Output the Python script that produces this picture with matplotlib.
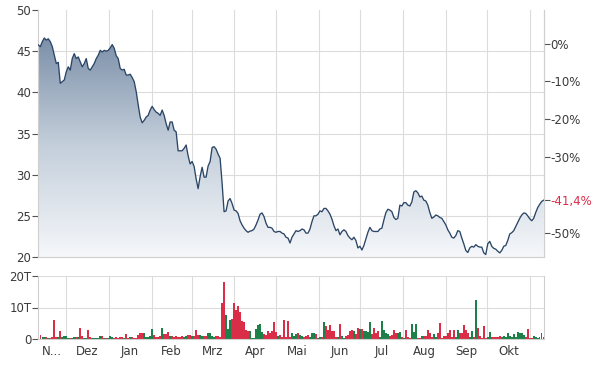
import numpy as np
import pandas as pd
import matplotlib
matplotlib.use("Agg")
import matplotlib.pyplot as plt
import matplotlib.dates as mdates
from matplotlib.patches import PathPatch
from matplotlib.colors import LinearSegmentedColormap

# ---------------- data ----------------
start_date = "2019-11-11"
end_date = "2020-11-11"
base_price = 45.93  # reference price for the % axis (0 %)

prices = [
    45.75, 45.55, 46.15, 46.6, 46.35, 46.5, 46.15, 45.55, 44.5, 43.5,
    43.65, 41.1, 41.3, 41.5, 42.5, 43.1, 42.7, 44.1, 44.7, 44.1,
    44.3, 43.7, 43.1, 43.5, 44.1, 42.9, 42.7, 43.1, 43.5, 44.1,
    44.5, 45.1, 44.9, 45.1, 45.0, 45.1, 45.4, 45.8, 45.35, 44.45,
    44.1, 42.9, 42.7, 42.8, 42.1, 42.1, 42.2, 41.8, 41.3, 40.1,
    38.5, 37.0, 36.3, 36.6, 37.0, 37.2, 37.85, 38.3, 37.9, 37.6,
    37.45, 37.2, 37.85, 37.2, 36.2, 35.4, 36.4, 36.4, 35.4, 35.2,
    32.9, 32.9, 32.9, 33.2, 33.6, 32.3, 31.3, 31.6, 31.0, 29.5,
    28.3, 29.75, 30.9, 29.7, 29.7, 31.05, 31.6, 33.3, 33.4, 33.1,
    32.5, 32.0, 29.0, 25.5, 25.6, 26.8, 27.1, 26.5, 25.7, 25.6,
    25.3, 24.4, 23.9, 23.5, 23.2, 23.0, 23.15, 23.2, 23.4, 23.9,
    24.5, 25.2, 25.35, 24.9, 24.1, 23.6, 23.6, 23.5, 23.1, 23.0,
    23.1, 23.1, 22.9, 22.8, 22.4, 22.3, 21.7, 22.4, 22.8, 23.2,
    23.1, 23.2, 23.4, 23.3, 22.9, 22.9, 23.4, 24.3, 25.0, 25.0,
    25.2, 25.6, 25.5, 25.9, 25.9, 25.6, 25.2, 24.6, 23.8, 23.2,
    23.4, 22.7, 23.1, 23.3, 23.1, 22.6, 22.3, 22.1, 22.4, 22.0,
    21.1, 21.3, 20.85, 21.4, 22.2, 23.0, 23.6, 23.2, 23.1, 23.1,
    23.1, 23.4, 23.5, 24.5, 25.4, 25.8, 25.7, 25.5, 24.8, 24.55,
    24.7, 26.3, 26.2, 26.6, 26.6, 26.3, 26.2, 26.7, 27.9, 28.05,
    27.8, 27.3, 27.4, 26.9, 26.8, 26.3, 25.4, 24.7, 24.85, 25.1,
    25.0, 24.8, 24.7, 24.3, 23.9, 23.3, 22.9, 22.4, 22.3, 22.6,
    23.2, 23.1, 22.3, 21.6, 20.8, 20.55, 21.1, 21.3, 21.2, 21.5,
    21.3, 21.2, 21.2, 20.5, 20.3, 21.6, 21.9, 21.3, 21.05, 20.95,
    20.7, 20.5, 20.8, 21.3, 21.4, 22.0, 22.8, 22.95, 23.2, 23.7,
    24.2, 24.7, 25.1, 25.35, 25.3, 25.0, 24.65, 24.4, 24.7, 25.4,
    26.0, 26.4, 26.75, 26.9,
]

# volume in thousands (T)
volumes = [
    1.3, 1.2, 0.6, 0.5, 0.5, 0.4, 0.3, 0.5, 5.9, 0.5,
    0.6, 2.6, 0.7, 0.8, 0.9, 0.3, 0.2, 0.4, 0.5, 0.6,
    0.5, 3.6, 0.8, 0.3, 0.4, 2.8, 0.7, 0.3, 0.4, 0.2,
    0.3, 0.9, 0.8, 0.3, 0.2, 0.4, 0.8, 0.7, 0.3, 0.5,
    0.4, 0.5, 0.6, 0.4, 1.5, 0.4, 0.6, 0.5, 0.3, 0.3,
    1.2, 1.9, 1.9, 1.9, 0.5, 0.6, 1.0, 3.3, 1.2, 0.6,
    0.5, 0.8, 3.4, 1.5, 1.5, 2.3, 1.0, 1.0, 0.5, 0.8,
    0.6, 0.5, 0.9, 0.7, 1.0, 1.2, 1.4, 1.0, 1.1, 3.0,
    1.3, 1.2, 1.0, 0.8, 1.0, 1.8, 1.8, 0.8, 0.5, 1.0,
    1.0, 0.6, 11.5, 18.1, 7.5, 3.3, 5.9, 6.5, 11.5, 9.1,
    10.6, 8.5, 5.7, 5.5, 2.8, 2.6, 2.6, 0.3, 0.3, 3.3,
    4.3, 4.9, 2.3, 1.5, 1.2, 2.5, 2.0, 2.5, 5.4, 2.3,
    0.8, 1.3, 0.5, 5.9, 0.6, 5.7, 0.5, 1.8, 0.8, 1.5,
    1.8, 1.3, 1.0, 0.5, 1.0, 1.3, 0.5, 1.9, 1.9, 1.5,
    0.3, 0.5, 0.5, 5.4, 4.0, 3.0, 4.5, 2.5, 2.5, 0.6,
    0.5, 4.9, 1.0, 0.3, 1.0, 1.3, 2.5, 2.7, 2.5, 1.5,
    3.5, 3.2, 3.2, 2.5, 2.5, 2.2, 5.4, 1.5, 3.5, 1.8,
    2.5, 0.5, 5.6, 3.0, 2.0, 1.5, 1.0, 1.2, 3.0, 2.0,
    2.0, 2.3, 0.5, 0.3, 3.0, 0.5, 0.4, 4.7, 2.3, 4.9,
    0.4, 0.3, 0.8, 1.0, 1.0, 2.8, 2.0, 0.5, 1.5, 0.5,
    2.0, 5.1, 0.4, 0.8, 0.8, 2.0, 2.8, 0.5, 3.0, 0.5,
    3.0, 2.0, 2.0, 4.4, 2.8, 2.0, 0.5, 2.5, 0.5, 12.4,
    3.6, 1.0, 0.4, 4.1, 0.3, 0.5, 2.1, 0.6, 0.6, 0.5,
    0.5, 0.8, 0.5, 1.0, 0.5, 2.0, 1.0, 0.5, 1.5, 0.5,
    2.3, 1.8, 1.8, 1.3, 0.5, 3.3, 0.3, 0.2, 0.8, 0.5,
    0.3, 0.5, 2.0, 0.5,
]

month_labels = ["N...", "Dez", "Jan", "Feb", "Mrz", "Apr", "Mai",
                "Jun", "Jul", "Aug", "Sep", "Okt"]
price_ticks = [20, 25, 30, 35, 40, 45, 50]
pct_ticks = [0, -10, -20, -30, -50]
vol_ticks = [0, 10, 20]
vol_tick_labels = ["0", "10T", "20T"]

# ---------------- styling ----------------
LINE = "#2b4566"
GRID = "#dcdcdc"
TEXT = "#3a3a3a"
RED = "#d92d48"
GREEN = "#1e8049"
FS = 8.5

plt.rcParams["font.family"] = ["DejaVu Sans"]

dates = pd.date_range(start_date, end_date, periods=len(prices))
vdates = pd.date_range(start_date, end_date, periods=len(volumes))
xs = mdates.date2num(dates)
vxs = mdates.date2num(vdates)
x0, x1 = mdates.date2num(pd.Timestamp(start_date)), mdates.date2num(pd.Timestamp(end_date))

fig = plt.figure(figsize=(6.02, 3.69), dpi=100)
L, R = 38.3 / 602, 543.7 / 602
ax = fig.add_axes([L, 1 - 257 / 369, R - L, (257 - 10) / 369])
axv = fig.add_axes([L, 1 - 339 / 369, R - L, (339 - 276) / 369])

# month grid + label positions
month_starts = pd.date_range("2019-12-01", "2020-11-01", freq="MS")
bounds = [pd.Timestamp(start_date)] + list(month_starts)
mids = [b0 + (b1 - b0) / 2 for b0, b1 in zip(bounds[:-1], bounds[1:])]

for a in (ax, axv):
    a.set_xlim(x0, x1)
    for m in month_starts:
        a.axvline(mdates.date2num(m), color=GRID, lw=0.8, zorder=0)
    a.spines["top"].set_visible(False)
    for s in ["left", "right", "bottom"]:
        a.spines[s].set_color("#cfcfcf")
        a.spines[s].set_linewidth(0.8)
    a.tick_params(axis="x", length=0)
    a.tick_params(axis="y", colors=TEXT, labelsize=FS, length=4, width=0.8, color="#555555", pad=1)
    a.set_facecolor("white")

# ---------------- price panel ----------------
ax.set_ylim(20, 50)
ax.set_yticks(price_ticks)
ax.set_yticklabels([str(t) for t in price_ticks])
for t in price_ticks[1:-1]:
    ax.axhline(t, color=GRID, lw=0.8, zorder=0)
ax.set_xticks([])

# gradient fill under the line
poly = ax.fill_between(xs, prices, 20, color="none", lw=0)
path = poly.get_paths()[0]
patch = PathPatch(path, transform=ax.transData, facecolor="none", edgecolor="none")
ax.add_patch(patch)
cmap = LinearSegmentedColormap.from_list("g", ["#f5f7fa", "#c4cfdb", "#7a8ea8"])
grad = np.linspace(0, 1, 256).reshape(-1, 1)
im = ax.imshow(grad, extent=[x0, x1, 20, 47], origin="lower", aspect="auto",
               cmap=cmap, zorder=1, interpolation="bilinear")
im.set_clip_path(patch)
ax.plot(xs, prices, color=LINE, lw=0.95, zorder=3)

# right % axis
axr = ax.twinx()
axr.set_ylim(20 / base_price * 100 - 100, 50 / base_price * 100 - 100)
last_pct = (prices[-1] / base_price - 1) * 100
axr.set_yticks(pct_ticks + [last_pct])
lbls = [f"{t}%" for t in pct_ticks] + [f"{last_pct:.1f}%".replace(".", ",")]
axr.set_yticklabels(lbls)
axr.tick_params(axis="y", labelsize=FS, length=4, width=0.8, color="#555555", pad=1, colors=TEXT)
axr.get_yticklabels()[-1].set_color(RED)
for s in axr.spines.values():
    s.set_visible(False)
axr.spines["right"].set_visible(True)
axr.spines["right"].set_color("#cfcfcf")
axr.spines["right"].set_linewidth(0.8)

# ---------------- volume panel ----------------
axv.set_ylim(0, 20)
axv.set_yticks(vol_ticks)
axv.set_yticklabels(vol_tick_labels)
axv.axhline(10, color=GRID, lw=0.8, zorder=0)
axv.axhline(20, color=GRID, lw=0.8, zorder=0)
colors = [GREEN if (i > 0 and prices[min(i, len(prices) - 1)] > prices[min(i, len(prices) - 1) - 1]) else RED
          for i in range(len(volumes))]
axv.bar(vxs, volumes, width=1.15, color=colors, lw=0, zorder=2)
axv.set_xticks(mdates.date2num(mids))
axv.set_xticklabels(month_labels, fontsize=FS, color=TEXT)
axv.tick_params(axis="x", pad=4)

fig.savefig("out.png", dpi=100, facecolor="white")
